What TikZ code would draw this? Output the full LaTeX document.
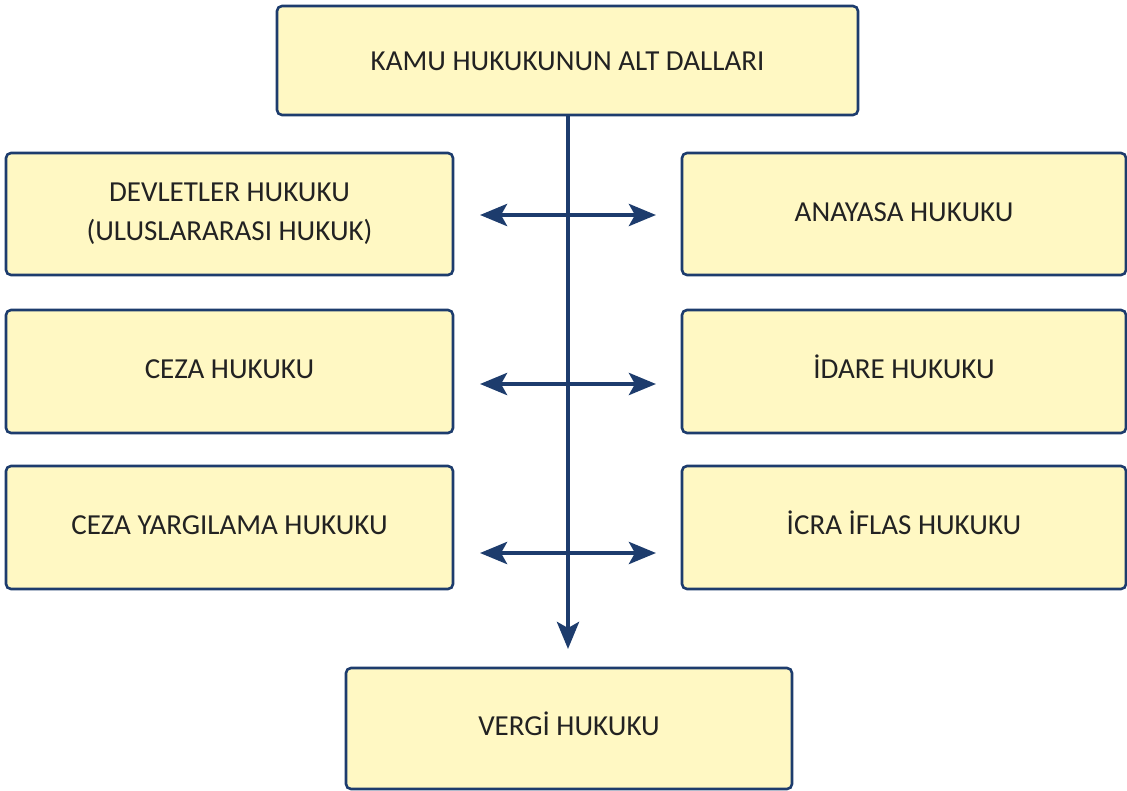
\documentclass[tikz,border=0pt]{standalone}
\usepackage{fontspec}
\setmainfont{Carlito}
\usetikzlibrary{arrows.meta}
\definecolor{boxfill}{HTML}{FFF8C3}
\definecolor{navy}{HTML}{1D3C6D}
\definecolor{ink}{HTML}{222222}
\tikzset{
  x=1pt, y=-1pt,
  branch/.style={draw=navy, line width=2.6pt, fill=boxfill, rounded corners=5pt,
    inner sep=0pt, align=center, text=ink, font=\fontsize{29}{39}\selectfont},
  oneline/.style={text height=20pt, text depth=6pt},
  tip/.tip={Stealth[length=27pt, width=22pt, inset=6pt]},
  link/.style={draw=navy, line width=4.5pt, -tip},
  twoway/.style={draw=navy, line width=4.5pt, tip-tip}
}
\begin{document}
\begin{tikzpicture}
\useasboundingbox (0,0) rectangle (1127,790);
\begin{scope}
\clip (0,0) rectangle (1127,790);
% root
\node[branch, text height=20pt, text depth=1pt, minimum width=581pt, minimum height=109pt] (root) at (567.5,60.5) {KAMU HUKUKUNUN ALT DALLARI};
% left column
\node[branch, minimum width=447pt, minimum height=122pt] (devlet) at (229.5,214) {DEVLETLER HUKUKU\\(ULUSLARARASI HUKUK)};
\node[branch, oneline, minimum width=447pt, minimum height=123pt] (ceza) at (229.5,371.5) {CEZA HUKUKU};
\node[branch, oneline, minimum width=447pt, minimum height=123pt] (yargi) at (229.5,527.5) {CEZA YARGILAMA HUKUKU};
% right column
\node[branch, oneline, minimum width=444pt, minimum height=122pt] (anayasa) at (904,214) {ANAYASA HUKUKU};
\node[branch, oneline, minimum width=444pt, minimum height=123pt] (idare) at (904,371.5) {İDARE HUKUKU};
\node[branch, oneline, minimum width=444pt, minimum height=123pt] (icra) at (904,527.5) {İCRA İFLAS HUKUKU};
% bottom
\node[branch, oneline, minimum width=446pt, minimum height=121pt] (vergi) at (569,728.5) {VERGİ HUKUKU};
% trunk
\coordinate (trunkend) at (568,649);
\draw[link] (root.south -| trunkend) -- (trunkend);
% branch arrows
\coordinate (l1) at (480,215); \coordinate (r1) at (656,215);
\coordinate (l2) at (480,384); \coordinate (r2) at (656,384);
\coordinate (l3) at (480,553); \coordinate (r3) at (656,553);
\draw[twoway] (l1) -- (r1);
\draw[twoway] (l2) -- (r2);
\draw[twoway] (l3) -- (r3);
\end{scope}
\end{tikzpicture}
\end{document}
